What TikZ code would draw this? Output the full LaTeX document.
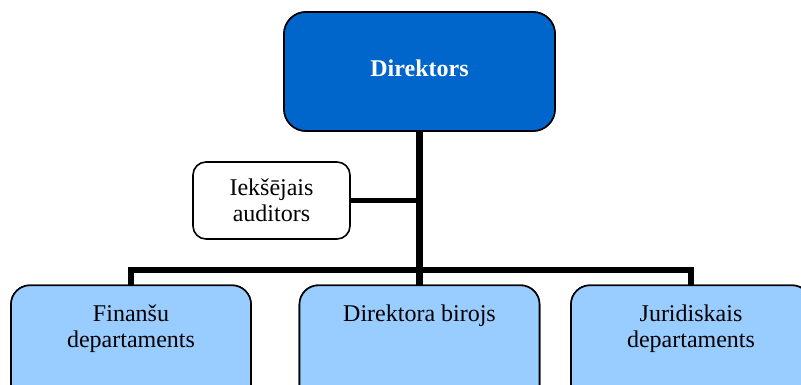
\documentclass[tikz,border=0pt]{standalone}
\usepackage{fontspec}
\setmainfont{Liberation Serif}
\definecolor{dirblue}{HTML}{0066CC}
\definecolor{lightblue}{HTML}{99CCFF}
\begin{document}
\begin{tikzpicture}[x=1pt,y=-1pt,
  boxbase/.style={draw=black, line width=1.6pt, rectangle, inner sep=0pt},
  dirbox/.style={boxbase, fill=dirblue, rounded corners=22pt, minimum width=271pt, minimum height=119pt},
  audbox/.style={boxbase, fill=white, rounded corners=13pt, minimum width=157pt, minimum height=77pt},
  deptbox/.style={boxbase, fill=lightblue, rounded corners=19pt, minimum width=240pt, minimum height=130pt, anchor=north},
  txt/.style={font=\fontsize{24}{26}\selectfont, align=center, inner sep=0pt},
  conn/.style={draw=black, line cap=butt, line join=miter}
]
\useasboundingbox (0,0) rectangle (801,385);
\clip (0,0) rectangle (801,385);
% nodes
\node[dirbox] (dir) at (419.5,71.5) {};
\node[txt, text=white, font=\fontsize{24}{26}\selectfont\bfseries] (dirT) at (419.5,68) {Direktors};
\node[audbox] (aud) at (271.5,200.5) {};
\node[txt] (audT) at (271.5,200) {Iekšējais\\auditors};
\node[deptbox] (fin) at (131,284.5) {};
\node[deptbox] (mid) at (419.5,284.5) {};
\node[deptbox] (jur) at (691,284.5) {};
\coordinate (bar) at (419.5,270);
% connectors
\draw[conn, line width=7pt] (dir.south) -- (mid.north);
\draw[conn, line width=6pt] (fin.north) -- (fin.north |- bar) -- (jur.north |- bar) -- (jur.north);
\draw[conn, line width=5.5pt] (aud.east) -- (aud.east -| dir.south);
% redraw box borders on top
\node[deptbox] at (131,284.5) {};
\node[deptbox] at (419.5,284.5) {};
\node[deptbox] at (691,284.5) {};
\node[dirbox] at (419.5,71.5) {};
\node[txt, text=white, font=\fontsize{24}{26}\selectfont\bfseries] at (419.5,68) {Direktors};
% texts in departments
\node[txt, anchor=north] (finT) at (131,305) {Finanšu\\departaments};
\node[txt, anchor=north] (midT) at (419.5,305) {Direktora birojs};
\node[txt, anchor=north] (jurT) at (691,305) {Juridiskais\\departaments};
\end{tikzpicture}
\end{document}
